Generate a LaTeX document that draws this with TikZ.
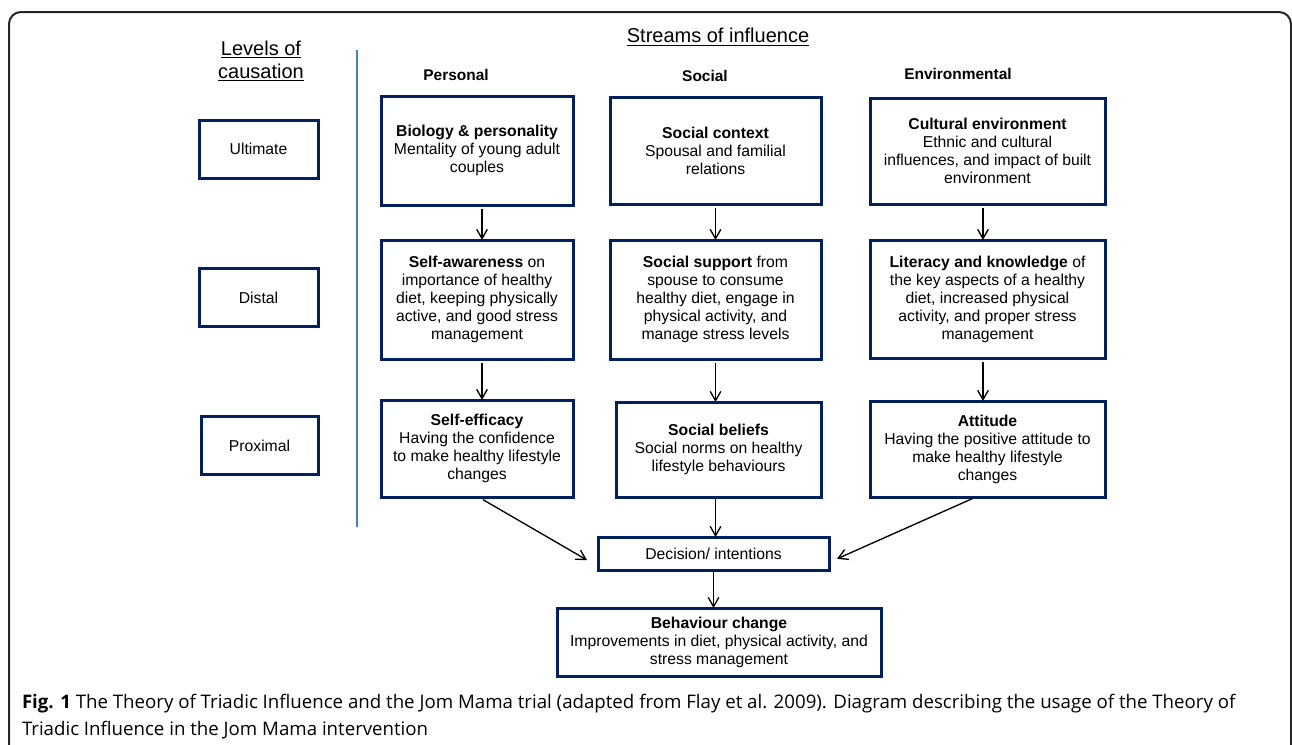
\documentclass[tikz,border=0pt]{standalone}
\usepackage{fontspec}
\setmainfont{Liberation Sans}
\newfontfamily\capfont{Open Sans}
\usetikzlibrary{arrows.meta}
\definecolor{boxblue}{HTML}{002060}
\definecolor{lineblue}{HTML}{4A7EBB}

\begin{document}
\begin{tikzpicture}[x=0.75pt, y=-0.75pt, outer sep=0pt]

\tikzstyle{stage}=[draw=boxblue, line width=2.25pt, rectangle, align=center, inner sep=2pt, font=\fontsize{11.8}{13.5}\selectfont]
\tikzstyle{level}=[stage, minimum width=89.25pt, minimum height=43.5pt]
\tikzstyle{head}=[font=\bfseries\fontsize{11.6}{13}\selectfont]
\tikzstyle{title}=[align=center, font=\fontsize{15}{17.25}\selectfont]
\tikzstyle{arr}=[-{Straight Barb[length=7pt,width=8pt]}, line width=1pt]

\useasboundingbox (0,0) rectangle (1292,744);
\begin{scope}
\clip (0,0) rectangle (1292,744);
\draw[line width=1.5pt, black!85, rounded corners=9pt] (9,12) rectangle (1291,800);
\end{scope}

% headings
\node[title] (lev) at (261,61) {\underline{Levels of}\\\underline{causation}};
\node[title] (str) at (718,37) {\underline{Streams of influence}};
\node[head] (hper) at (456,75) {Personal};
\node[head] (hsoc) at (705,76) {Social};
\node[head] (henv) at (958,74) {Environmental};
\draw[lineblue, line width=1.5pt] (357,50) -- (357,527);

% levels of causation
\node[level] (ult) at (258.5,149) {Ultimate};
\node[level] (dis) at (258.5,297.5) {Distal};
\node[level, minimum width=87.75pt] (prox) at (259.5,445.5) {Proximal};

% personal stream
\node[stage, minimum width=144pt, minimum height=81.75pt] (bio) at (477,150.5) {\textbf{Biology \& personality}\\Mentality of young adult\\couples};
\node[stage, minimum width=144pt, minimum height=89.25pt] (self) at (477,299.5) {\textbf{Self-awareness} on\\importance of healthy\\diet, keeping physically\\active, and good stress\\management};
\node[stage, minimum width=144pt, minimum height=72.75pt] (eff) at (477,448.5) {\textbf{Self-efficacy}\\Having the confidence\\to make healthy lifestyle\\changes};

% social stream
\node[stage, minimum width=158.25pt, minimum height=80.25pt] (ctx) at (715.5,150.5) {\textbf{Social context}\\Spousal and familial\\relations};
\node[stage, minimum width=158.25pt, minimum height=89.25pt] (sup) at (715.5,299.5) {\textbf{Social support} from\\spouse to consume\\healthy diet, engage in\\physical activity, and\\manage stress levels};
\node[stage, minimum width=153.75pt, minimum height=71.25pt] (bel) at (718.5,449.5) {\textbf{Social beliefs}\\Social norms on healthy\\lifestyle behaviours};

% environmental stream
\node[stage, minimum width=176.25pt, minimum height=79.5pt] (cult) at (987.5,151) {\textbf{Cultural environment}\\Ethnic and cultural\\influences, and impact of built\\environment};
\node[stage, minimum width=176.25pt, minimum height=88.5pt] (lit) at (987.5,299) {\textbf{Literacy and knowledge} of\\the key aspects of a healthy\\diet, increased physical\\activity, and proper stress\\management};
\node[stage, minimum width=176.25pt, minimum height=72pt] (att) at (987.5,449) {\textbf{Attitude}\\Having the positive attitude to\\make healthy lifestyle\\changes};

% outcome
\node[stage, minimum width=173.25pt, minimum height=24.75pt] (dec) at (713.5,553.5) {Decision/ intentions};
\node[stage, minimum width=243pt, minimum height=51pt] (beh) at (719,642) {\textbf{Behaviour change}\\Improvements in diet, physical activity, and\\stress management};

% arrows
\draw[arr, shorten <=3pt] ([xshift=3.75pt]bio.south) -- ([xshift=3.75pt]self.north);
\draw[arr, shorten <=3pt] ([xshift=3.75pt]self.south) -- ([xshift=3.75pt]eff.north);
\draw[arr, shorten <=3pt] (ctx.south) -- (sup.north);
\draw[arr, shorten <=3pt] (sup.south) -- (sup.south |- bel.north);
\draw[arr, shorten <=3pt] ([xshift=-3.4pt]cult.south) -- ([xshift=-3.4pt]lit.north);
\draw[arr, shorten <=3pt] ([xshift=-3.4pt]lit.south) -- ([xshift=-3.4pt]att.north);
\draw[arr, shorten <=1pt] (bel.south -| sup.south) -- (sup.south |- dec.north);
\draw[arr] ([xshift=4.5pt,yshift=-2pt]eff.south) -- ([xshift=-8.25pt,yshift=-4.9pt]dec.west);
\draw[arr] ([xshift=-10.9pt,yshift=-1pt]att.south) -- ([xshift=6pt,yshift=-4pt]dec.east);
\draw[arr, shorten <=1pt] (dec.south) -- (dec.south |- beh.north);

% caption
\node[anchor=north west, align=left, inner sep=0pt, font=\capfont\fontsize{14}{20.5}\selectfont] (cap) at (22,694) {\textbf{Fig. 1} The Theory of Triadic Influence and the Jom Mama trial (adapted from Flay et al. 2009). Diagram describing the usage of the Theory of\\Triadic Influence in the Jom Mama intervention};

\end{tikzpicture}
\end{document}
